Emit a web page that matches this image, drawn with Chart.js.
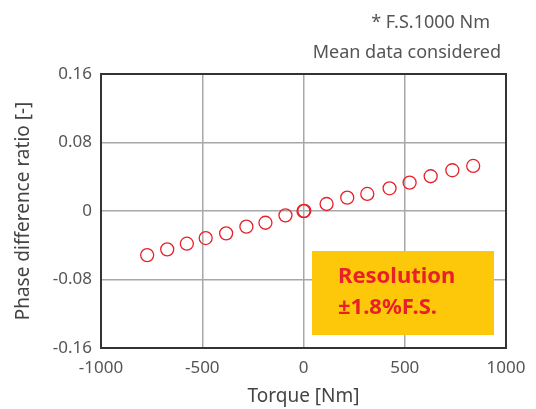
<!DOCTYPE html>
<html>
<head>
    <meta charset="UTF-8">
    <title>Phase difference ratio vs Torque</title>
    <script src="https://cdn.jsdelivr.net/npm/chart.js"></script>
    <style>
        body { margin: 0; padding: 0; background: #fff; }
        #wrap { width: 536px; height: 409px; }
    </style>
</head>
<body>
    <div id="wrap"><canvas id="graph" width="536" height="409"></canvas></div>

    <script>
        // Data
        const torque = [-772, -673, -576, -483, -382, -282, -188, -89, 0, 4, 114, 216, 315, 425, 524, 628, 735, 838];
        const ratio = [-0.0515, -0.0448, -0.0382, -0.0316, -0.0261, -0.0183, -0.0137, -0.0051, -0.0002, 0.0002, 0.0082, 0.0156, 0.0199, 0.0265, 0.0331, 0.0406, 0.0476, 0.0526];
        const xTicks = [-1000, -500, 0, 500, 1000];
        const xTickLabels = ['-1000', '-500', '0', '500', '1000'];
        const yTicks = [-0.16, -0.08, 0, 0.08, 0.16];
        const yTickLabels = ['-0.16', '-0.08', '0', '0.08', '0.16'];
        const noteLines = ['* F.S.1000 Nm', 'Mean data considered'];
        const boxLines = ['Resolution', '±1.8%F.S.'];

        const FONT = "'Noto Sans', sans-serif";
        const TEXT = '#555555';

        const points = torque.map((t, i) => ({ x: t, y: ratio[i] }));

        // frame round the plot area, note at top right and yellow box
        const extras = {
            id: 'extras',
            afterDraw(chart) {
                const c = chart.ctx;
                const a = chart.chartArea;
                c.save();
                c.strokeStyle = '#333333';
                c.lineWidth = 2;
                c.strokeRect(a.left, a.top, a.right - a.left, a.bottom - a.top);

                c.fillStyle = TEXT;
                c.font = '18px ' + FONT;
                c.textAlign = 'right';
                c.textBaseline = 'middle';
                c.fillText(noteLines[0], 490, 23);
                c.fillText(noteLines[1], 501, 53);

                c.fillStyle = '#fdc80a';
                c.fillRect(312, 251, 182, 84);
                c.fillStyle = '#e8202a';
                c.font = 'bold 22px ' + FONT;
                c.textAlign = 'left';
                c.textBaseline = 'alphabetic';
                c.fillText(boxLines[0], 338, 283);
                c.fillText(boxLines[1], 338, 314);
                c.restore();
            }
        };

        new Chart(document.getElementById('graph'), {
            type: 'scatter',
            data: {
                datasets: [{
                    data: points,
                    pointStyle: 'circle',
                    pointRadius: 6.5,
                    pointBorderWidth: 1.3,
                    pointBorderColor: '#e8202a',
                    pointBackgroundColor: 'rgba(255,255,255,0)'
                }]
            },
            options: {
                responsive: false,
                animation: false,
                layout: { padding: { top: 74, right: 30, left: 0, bottom: 0 } },
                plugins: { legend: { display: false }, tooltip: { enabled: false } },
                scales: {
                    x: {
                        type: 'linear',
                        min: -1000,
                        max: 1000,
                        afterBuildTicks: s => { s.ticks = xTicks.map(v => ({ value: v })); },
                        afterFit: s => { s.height = 61; },
                        grid: { color: '#a8a8a8', lineWidth: 1.5, drawTicks: false },
                        border: { display: false },
                        ticks: {
                            color: TEXT,
                            font: { family: FONT, size: 17 },
                            padding: 10,
                            callback: (v, i) => xTickLabels[i]
                        },
                        title: { display: true, text: 'Torque [Nm]', color: '#444', font: { family: FONT, size: 19 }, padding: { top: 0, bottom: 1 } }
                    },
                    y: {
                        type: 'linear',
                        min: -0.16,
                        max: 0.16,
                        afterBuildTicks: s => { s.ticks = yTicks.map(v => ({ value: v })); },
                        afterFit: s => { s.width = 101; },
                        grid: { color: '#a8a8a8', lineWidth: 1.5, drawTicks: false },
                        border: { display: false },
                        ticks: {
                            color: TEXT,
                            font: { family: FONT, size: 17 },
                            padding: 9,
                            callback: (v, i) => yTickLabels[i]
                        },
                        title: { display: true, text: 'Phase difference ratio [-]', color: '#444', font: { family: FONT, size: 19 }, padding: { top: 12, bottom: 0 } }
                    }
                }
            },
            plugins: [extras]
        });
    </script>
</body>
</html>
